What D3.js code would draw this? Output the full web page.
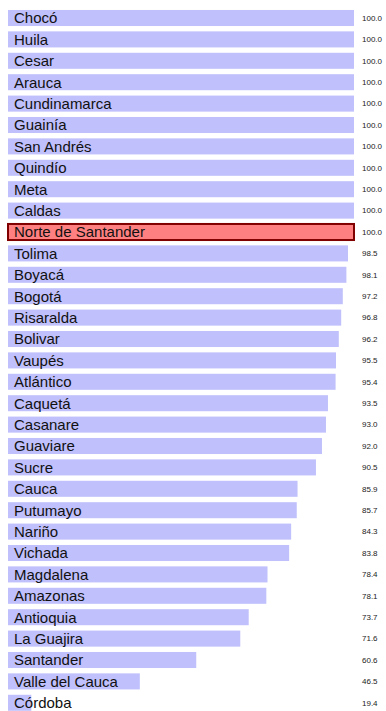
<!DOCTYPE html>
<html>
<head>
<meta charset="utf-8">
<script src="https://cdn.jsdelivr.net/npm/d3@7"></script>
<style>
  html, body { margin: 0; padding: 0; background: #fff; }
  svg { display: block; }
</style>
</head>
<body>
<svg id="chart" width="386" height="711"></svg>
<script>
// Departments, ordered as drawn (top to bottom)
const departments = [
  "Chocó", "Huila", "Cesar", "Arauca", "Cundinamarca", "Guainía", "San Andrés",
  "Quindío", "Meta", "Caldas", "Norte de Santander", "Tolima", "Boyacá", "Bogotá",
  "Risaralda", "Bolivar", "Vaupés", "Atlántico", "Caquetá", "Casanare", "Guaviare",
  "Sucre", "Cauca", "Putumayo", "Nariño", "Vichada", "Magdalena", "Amazonas",
  "Antioquia", "La Guajira", "Santander", "Valle del Cauca", "Córdoba"
];
const values = [
  100.0, 100.0, 100.0, 100.0, 100.0, 100.0, 100.0,
  100.0, 100.0, 100.0, 100.0, 98.5, 98.1, 97.2,
  96.8, 96.2, 95.5, 95.4, 93.5, 93.0, 92.0,
  90.5, 85.9, 85.7, 84.3, 83.8, 78.4, 78.1,
  73.7, 71.6, 60.6, 46.5, 19.4
];
const highlighted = "Norte de Santander";

const rows = departments.map((name, i) => ({ name, value: values[i] }));

const svg = d3.select("#chart");

const minV = d3.min(values);
const x = d3.scaleLinear()
  .domain([minV * 0.7, d3.max(values)])
  .range([8, 354]);

const y = d3.scaleBand()
  .domain(departments)
  .range([7.3, 713.5])
  .paddingInner(0.25)
  .paddingOuter(0.125);

const g = svg.append("g");

const row = g.selectAll("g.row")
  .data(rows)
  .join("g")
  .attr("class", "row");

row.append("rect")
  .attr("x", x.range()[0])
  .attr("y", d => y(d.name))
  .attr("width", d => x(d.value) - x.range()[0])
  .attr("height", y.bandwidth())
  .attr("fill", d => d.name === highlighted ? "#ff8080" : "#c0c0fc")
  .attr("stroke", d => d.name === highlighted ? "#800000" : "none")
  .attr("stroke-width", d => d.name === highlighted ? 2 : 0);

row.append("text")
  .attr("x", 14)
  .attr("y", d => y(d.name) + y.bandwidth() / 2)
  .attr("dy", "0.36em")
  .attr("font-family", "Liberation Sans, Arial, sans-serif")
  .attr("font-size", 15)
  .attr("fill", "#111")
  .text(d => d.name);

row.append("text")
  .attr("x", 362)
  .attr("y", d => y(d.name) + y.bandwidth() / 2)
  .attr("dy", "0.36em")
  .attr("font-family", "Liberation Sans, Arial, sans-serif")
  .attr("font-size", 8)
  .attr("fill", "#222")
  .text(d => d3.format(".1f")(d.value));
</script>
</body>
</html>
